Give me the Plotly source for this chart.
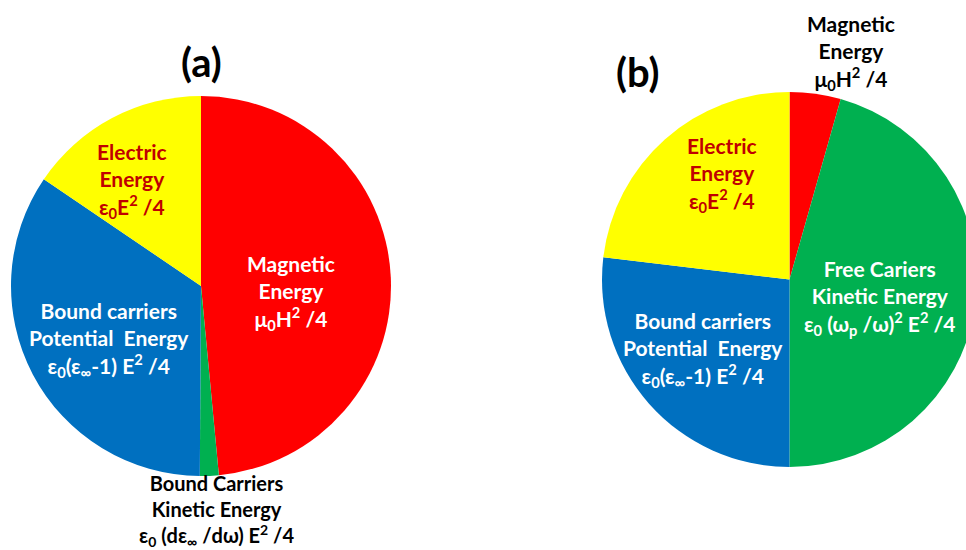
import plotly.graph_objects as go

# Energy partition, panel (a): bound carriers only
labels_a = ["Magnetic Energy", "Bound Carriers Kinetic Energy",
            "Bound carriers Potential Energy", "Electric Energy"]
values_a = [48.5, 1.6, 34.4, 15.5]

# Energy partition, panel (b): with free carriers
labels_b = ["Magnetic Energy", "Free Cariers Kinetic Energy",
            "Bound carriers Potential Energy", "Electric Energy"]
values_b = [4.4, 45.6, 26.9, 23.1]

colors = ["#FF0000", "#00B050", "#0070C0", "#FFFF00"]

# Slice label text (formula lines)
text_a = [
    "Magnetic<br>Energy<br>μ<sub>0</sub>H<sup>2</sup> /4",
    "Bound Carriers<br>Kinetic Energy<br>ε<sub>0</sub> (dε<sub>∞</sub> /dω) E<sup>2</sup> /4",
    "Bound carriers<br>Potential  Energy<br>ε<sub>0</sub>(ε<sub>∞</sub>-1) E<sup>2</sup> /4",
    "Electric<br>Energy<br>ε<sub>0</sub>E<sup>2</sup> /4",
]
text_b = [
    "Magnetic<br>Energy<br>μ<sub>0</sub>H<sup>2</sup> /4",
    "Free Cariers<br>Kinetic Energy<br>ε<sub>0</sub> (ω<sub>p</sub> /ω)<sup>2</sup> E<sup>2</sup> /4",
    "Bound carriers<br>Potential  Energy<br>ε<sub>0</sub>(ε<sub>∞</sub>-1) E<sup>2</sup> /4",
    "Electric<br>Energy<br>ε<sub>0</sub>E<sup>2</sup> /4",
]
text_colors_a = ["white", "black", "white", "#C00000"]
text_colors_b = ["black", "white", "white", "#C00000"]
text_sizes_a = [21, 20, 21, 21]
text_sizes_b = [21, 21, 21, 21]
# label centres in pixels (x, y from top)
pos_a = [(291, 292), (216, 510), (109, 339), (132, 180)]
pos_b = [(851, 53), (880, 297), (703, 349), (722, 174)]

W, H = 978, 550
FONT = "Lato"


def dom(cx, cy, r):
    return dict(x=[(cx - r) / W, (cx + r) / W],
                y=[(H - cy - r) / H, (H - cy + r) / H])


fig = go.Figure()
fig.add_trace(go.Pie(labels=labels_a, values=values_a, sort=False,
                     direction="clockwise", rotation=0,
                     marker=dict(colors=colors, line=dict(width=0)),
                     textinfo="none", hoverinfo="label+percent",
                     domain=dom(201, 286, 190), showlegend=False))
fig.add_trace(go.Pie(labels=labels_b, values=values_b, sort=False,
                     direction="clockwise", rotation=0,
                     marker=dict(colors=colors, line=dict(width=0)),
                     textinfo="none", hoverinfo="label+percent",
                     domain=dom(789.5, 279.5, 187.5), showlegend=False))

annotations = []
for txt, col, sz, (x, y) in zip(text_a + text_b, text_colors_a + text_colors_b,
                                text_sizes_a + text_sizes_b, pos_a + pos_b):
    annotations.append(dict(text="<b>" + txt + "</b>", x=x / W, y=1 - y / H,
                            xref="paper", yref="paper", showarrow=False,
                            xanchor="center", yanchor="middle",
                            font=dict(family=FONT, size=sz, color=col)))
annotations.append(dict(text="<b>(a)</b>", x=201 / W, y=1 - 62 / H, xref="paper", yref="paper",
                        xanchor="center", yanchor="middle", showarrow=False,
                        font=dict(family=FONT, size=40, color="black")))
annotations.append(dict(text="<b>(b)</b>", x=638 / W, y=1 - 72 / H, xref="paper", yref="paper",
                        xanchor="center", yanchor="middle", showarrow=False,
                        font=dict(family=FONT, size=40, color="black")))

fig.update_layout(width=W, height=H, margin=dict(l=0, r=0, t=0, b=0),
                  paper_bgcolor="white", plot_bgcolor="white",
                  annotations=annotations)

fig.write_html("out.html")
